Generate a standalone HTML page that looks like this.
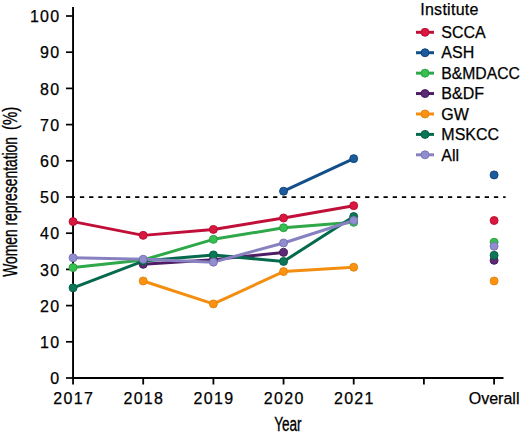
<!DOCTYPE html>
<html><head><meta charset="utf-8"><style>
html,body{margin:0;padding:0;background:#fff;}
svg{display:block;}
.t{font-family:"Liberation Sans",sans-serif;font-size:16px;fill:#000;stroke:#000;stroke-width:0.25px;}
.ax{font-family:"Liberation Sans",sans-serif;font-size:20px;fill:#000;stroke:#000;stroke-width:0.35px;}
</style></head><body>
<svg width="520" height="437" viewBox="0 0 520 437">
<line x1="73.05" y1="7" x2="73.05" y2="379" stroke="#000" stroke-width="1.9"/>
<line x1="72.1" y1="378" x2="503.5" y2="378" stroke="#000" stroke-width="2"/>
<line x1="66" y1="378.00" x2="73" y2="378.00" stroke="#000" stroke-width="1.7"/>
<line x1="66" y1="341.80" x2="73" y2="341.80" stroke="#000" stroke-width="1.7"/>
<line x1="66" y1="305.60" x2="73" y2="305.60" stroke="#000" stroke-width="1.7"/>
<line x1="66" y1="269.40" x2="73" y2="269.40" stroke="#000" stroke-width="1.7"/>
<line x1="66" y1="233.20" x2="73" y2="233.20" stroke="#000" stroke-width="1.7"/>
<line x1="66" y1="197.00" x2="73" y2="197.00" stroke="#000" stroke-width="1.7"/>
<line x1="66" y1="160.80" x2="73" y2="160.80" stroke="#000" stroke-width="1.7"/>
<line x1="66" y1="124.60" x2="73" y2="124.60" stroke="#000" stroke-width="1.7"/>
<line x1="66" y1="88.40" x2="73" y2="88.40" stroke="#000" stroke-width="1.7"/>
<line x1="66" y1="52.20" x2="73" y2="52.20" stroke="#000" stroke-width="1.7"/>
<line x1="66" y1="16.00" x2="73" y2="16.00" stroke="#000" stroke-width="1.7"/>
<line x1="73.05" y1="378" x2="73.05" y2="384.5" stroke="#000" stroke-width="1.8"/>
<line x1="143.20" y1="378" x2="143.20" y2="384.5" stroke="#000" stroke-width="1.8"/>
<line x1="213.40" y1="378" x2="213.40" y2="384.5" stroke="#000" stroke-width="1.8"/>
<line x1="283.55" y1="378" x2="283.55" y2="384.5" stroke="#000" stroke-width="1.8"/>
<line x1="353.70" y1="378" x2="353.70" y2="384.5" stroke="#000" stroke-width="1.8"/>
<line x1="494.10" y1="378" x2="494.10" y2="384.5" stroke="#000" stroke-width="1.8"/>
<line x1="423.90" y1="378" x2="423.90" y2="384.5" stroke="#000" stroke-width="1.8"/>
<line x1="70.7" y1="197.1" x2="505.6" y2="197.1" stroke="#000" stroke-width="1.8" stroke-dasharray="4.3 4.9"/>
<polyline points="73.05,221.62 143.20,235.37 213.40,229.40 283.55,218.00 353.70,205.69" fill="none" stroke="#c00f38" stroke-width="3" stroke-linejoin="round"/>
<polyline points="283.55,191.21 353.70,158.63" fill="none" stroke="#124f8a" stroke-width="3" stroke-linejoin="round"/>
<polyline points="73.05,267.59 143.20,259.99 213.40,239.35 283.55,227.77 353.70,222.34" fill="none" stroke="#2ea849" stroke-width="3" stroke-linejoin="round"/>
<polyline points="143.20,264.33 213.40,259.63 283.55,252.39" fill="none" stroke="#4f1d65" stroke-width="3" stroke-linejoin="round"/>
<polyline points="143.20,280.98 213.40,303.93 283.55,271.57 353.70,267.23" fill="none" stroke="#f38e10" stroke-width="3" stroke-linejoin="round"/>
<polyline points="73.05,287.86 143.20,261.07 213.40,254.92 283.55,261.44 353.70,216.55" fill="none" stroke="#056a4d" stroke-width="3" stroke-linejoin="round"/>
<polyline points="73.05,257.82 143.20,259.26 213.40,262.16 283.55,242.97 353.70,220.53" fill="none" stroke="#8781c2" stroke-width="3" stroke-linejoin="round"/>
<circle cx="73.05" cy="221.62" r="4.0" fill="#d9173f" stroke="#b30d31" stroke-width="0.9"/>
<circle cx="143.20" cy="235.37" r="4.0" fill="#d9173f" stroke="#b30d31" stroke-width="0.9"/>
<circle cx="213.40" cy="229.40" r="4.0" fill="#d9173f" stroke="#b30d31" stroke-width="0.9"/>
<circle cx="283.55" cy="218.00" r="4.0" fill="#d9173f" stroke="#b30d31" stroke-width="0.9"/>
<circle cx="353.70" cy="205.69" r="4.0" fill="#d9173f" stroke="#b30d31" stroke-width="0.9"/>
<circle cx="494.10" cy="220.53" r="4.0" fill="#d9173f" stroke="#b30d31" stroke-width="0.9"/>
<circle cx="283.55" cy="191.21" r="4.0" fill="#1b5c9e" stroke="#0e3f73" stroke-width="0.9"/>
<circle cx="353.70" cy="158.63" r="4.0" fill="#1b5c9e" stroke="#0e3f73" stroke-width="0.9"/>
<circle cx="494.10" cy="174.92" r="4.0" fill="#1b5c9e" stroke="#0e3f73" stroke-width="0.9"/>
<circle cx="73.05" cy="267.59" r="4.0" fill="#36c051" stroke="#299a3f" stroke-width="0.9"/>
<circle cx="143.20" cy="259.99" r="4.0" fill="#36c051" stroke="#299a3f" stroke-width="0.9"/>
<circle cx="213.40" cy="239.35" r="4.0" fill="#36c051" stroke="#299a3f" stroke-width="0.9"/>
<circle cx="283.55" cy="227.77" r="4.0" fill="#36c051" stroke="#299a3f" stroke-width="0.9"/>
<circle cx="353.70" cy="222.34" r="4.0" fill="#36c051" stroke="#299a3f" stroke-width="0.9"/>
<circle cx="494.10" cy="242.25" r="4.0" fill="#36c051" stroke="#299a3f" stroke-width="0.9"/>
<circle cx="143.20" cy="264.33" r="4.0" fill="#5d2a75" stroke="#40165a" stroke-width="0.9"/>
<circle cx="213.40" cy="259.63" r="4.0" fill="#5d2a75" stroke="#40165a" stroke-width="0.9"/>
<circle cx="283.55" cy="252.39" r="4.0" fill="#5d2a75" stroke="#40165a" stroke-width="0.9"/>
<circle cx="494.10" cy="260.35" r="4.0" fill="#5d2a75" stroke="#40165a" stroke-width="0.9"/>
<circle cx="143.20" cy="280.98" r="4.0" fill="#fb9310" stroke="#e0820f" stroke-width="0.9"/>
<circle cx="213.40" cy="303.93" r="4.0" fill="#fb9310" stroke="#e0820f" stroke-width="0.9"/>
<circle cx="283.55" cy="271.57" r="4.0" fill="#fb9310" stroke="#e0820f" stroke-width="0.9"/>
<circle cx="353.70" cy="267.23" r="4.0" fill="#fb9310" stroke="#e0820f" stroke-width="0.9"/>
<circle cx="494.10" cy="280.98" r="4.0" fill="#fb9310" stroke="#e0820f" stroke-width="0.9"/>
<circle cx="73.05" cy="287.86" r="4.0" fill="#0a7858" stroke="#055a40" stroke-width="0.9"/>
<circle cx="143.20" cy="261.07" r="4.0" fill="#0a7858" stroke="#055a40" stroke-width="0.9"/>
<circle cx="213.40" cy="254.92" r="4.0" fill="#0a7858" stroke="#055a40" stroke-width="0.9"/>
<circle cx="283.55" cy="261.44" r="4.0" fill="#0a7858" stroke="#055a40" stroke-width="0.9"/>
<circle cx="353.70" cy="216.55" r="4.0" fill="#0a7858" stroke="#055a40" stroke-width="0.9"/>
<circle cx="494.10" cy="255.28" r="4.0" fill="#0a7858" stroke="#055a40" stroke-width="0.9"/>
<circle cx="73.05" cy="257.82" r="4.0" fill="#928dd0" stroke="#7672b0" stroke-width="0.9"/>
<circle cx="143.20" cy="259.26" r="4.0" fill="#928dd0" stroke="#7672b0" stroke-width="0.9"/>
<circle cx="213.40" cy="262.16" r="4.0" fill="#928dd0" stroke="#7672b0" stroke-width="0.9"/>
<circle cx="283.55" cy="242.97" r="4.0" fill="#928dd0" stroke="#7672b0" stroke-width="0.9"/>
<circle cx="353.70" cy="220.53" r="4.0" fill="#928dd0" stroke="#7672b0" stroke-width="0.9"/>
<circle cx="494.10" cy="246.23" r="4.0" fill="#928dd0" stroke="#7672b0" stroke-width="0.9"/>
<text x="59.2" y="384.10" text-anchor="end" class="t" textLength="8.91" lengthAdjust="spacing">0</text>
<text x="59.2" y="347.90" text-anchor="end" class="t" textLength="19.11" lengthAdjust="spacing">10</text>
<text x="59.2" y="311.70" text-anchor="end" class="t" textLength="19.11" lengthAdjust="spacing">20</text>
<text x="59.2" y="275.50" text-anchor="end" class="t" textLength="19.11" lengthAdjust="spacing">30</text>
<text x="59.2" y="239.30" text-anchor="end" class="t" textLength="19.11" lengthAdjust="spacing">40</text>
<text x="59.2" y="203.10" text-anchor="end" class="t" textLength="19.11" lengthAdjust="spacing">50</text>
<text x="59.2" y="166.90" text-anchor="end" class="t" textLength="19.11" lengthAdjust="spacing">60</text>
<text x="59.2" y="130.70" text-anchor="end" class="t" textLength="19.11" lengthAdjust="spacing">70</text>
<text x="59.2" y="94.50" text-anchor="end" class="t" textLength="19.11" lengthAdjust="spacing">80</text>
<text x="59.2" y="58.30" text-anchor="end" class="t" textLength="19.11" lengthAdjust="spacing">90</text>
<text x="59.2" y="22.10" text-anchor="end" class="t" textLength="29.32" lengthAdjust="spacing">100</text>
<text x="73.05" y="403.8" text-anchor="middle" class="t" textLength="39.62" lengthAdjust="spacing">2017</text>
<text x="143.20" y="403.8" text-anchor="middle" class="t" textLength="39.62" lengthAdjust="spacing">2018</text>
<text x="213.40" y="403.8" text-anchor="middle" class="t" textLength="39.62" lengthAdjust="spacing">2019</text>
<text x="283.55" y="403.8" text-anchor="middle" class="t" textLength="39.62" lengthAdjust="spacing">2020</text>
<text x="353.70" y="403.8" text-anchor="middle" class="t" textLength="39.62" lengthAdjust="spacing">2021</text>
<text x="494.10" y="403.8" text-anchor="middle" class="t">Overall</text>
<text x="0" y="0" class="ax" transform="translate(17.4,276.8) rotate(-90) scale(0.693,1)">Women representation</text>
<text x="0" y="0" class="ax" transform="translate(17.4,129.9) rotate(-90) scale(0.745,1)">(%)</text>
<text x="0" y="0" class="ax" transform="translate(287.9,431.1) scale(0.68,1)" text-anchor="middle">Year</text>
<text x="420.2" y="14.6" class="t" textLength="58.3" lengthAdjust="spacing">Institute</text>
<line x1="416" y1="32.30" x2="434" y2="32.30" stroke="#c00f38" stroke-width="3"/>
<circle cx="425" cy="32.30" r="4.0" fill="#d9173f" stroke="#b30d31" stroke-width="0.9"/>
<text x="441.3" y="38.05" class="t">SCCA</text>
<line x1="416" y1="52.72" x2="434" y2="52.72" stroke="#124f8a" stroke-width="3"/>
<circle cx="425" cy="52.72" r="4.0" fill="#1b5c9e" stroke="#0e3f73" stroke-width="0.9"/>
<text x="441.3" y="58.47" class="t">ASH</text>
<line x1="416" y1="73.14" x2="434" y2="73.14" stroke="#2ea849" stroke-width="3"/>
<circle cx="425" cy="73.14" r="4.0" fill="#36c051" stroke="#299a3f" stroke-width="0.9"/>
<text x="441.3" y="78.89" class="t" textLength="78.6" lengthAdjust="spacingAndGlyphs">B&amp;MDACC</text>
<line x1="416" y1="93.56" x2="434" y2="93.56" stroke="#4f1d65" stroke-width="3"/>
<circle cx="425" cy="93.56" r="4.0" fill="#5d2a75" stroke="#40165a" stroke-width="0.9"/>
<text x="441.3" y="99.31" class="t">B&amp;DF</text>
<line x1="416" y1="113.98" x2="434" y2="113.98" stroke="#f38e10" stroke-width="3"/>
<circle cx="425" cy="113.98" r="4.0" fill="#fb9310" stroke="#e0820f" stroke-width="0.9"/>
<text x="441.3" y="119.73" class="t">GW</text>
<line x1="416" y1="134.40" x2="434" y2="134.40" stroke="#056a4d" stroke-width="3"/>
<circle cx="425" cy="134.40" r="4.0" fill="#0a7858" stroke="#055a40" stroke-width="0.9"/>
<text x="441.3" y="140.15" class="t">MSKCC</text>
<line x1="416" y1="154.82" x2="434" y2="154.82" stroke="#8781c2" stroke-width="3"/>
<circle cx="425" cy="154.82" r="4.0" fill="#928dd0" stroke="#7672b0" stroke-width="0.9"/>
<text x="441.3" y="160.57" class="t">All</text>
</svg>
</body></html>
